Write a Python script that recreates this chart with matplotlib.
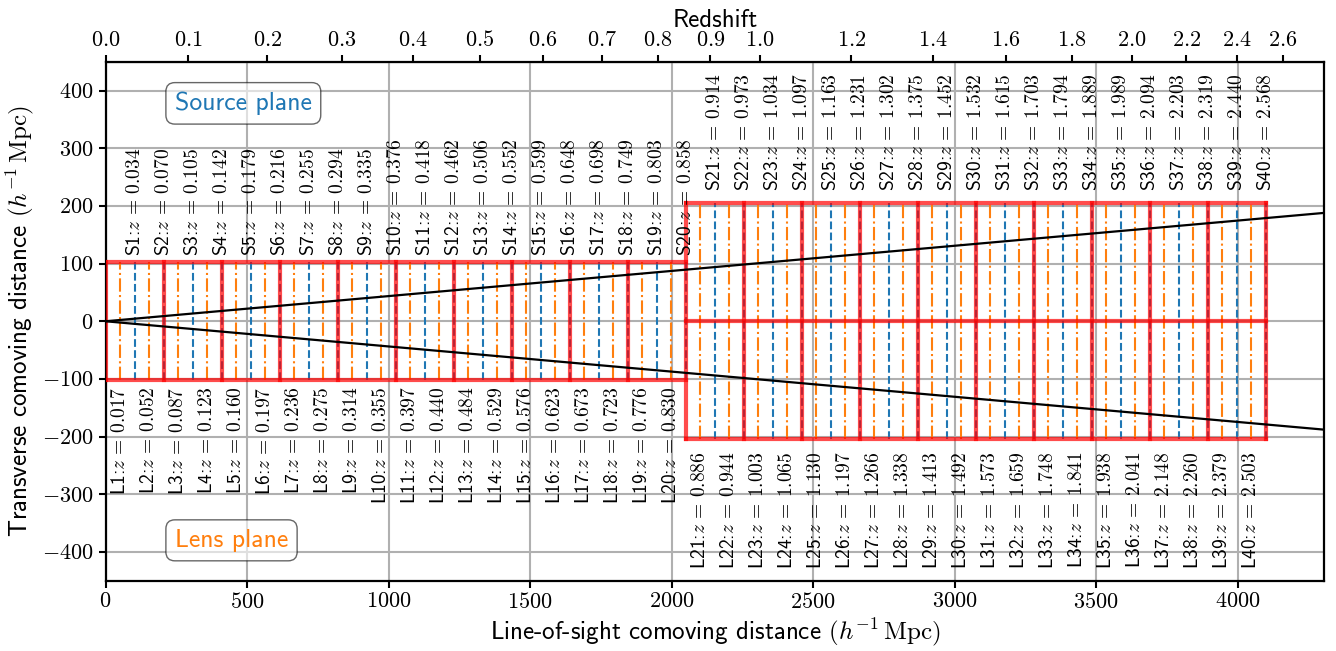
import matplotlib
matplotlib.use("Agg")
import matplotlib.pyplot as plt
import matplotlib.ticker as ticker
import numpy as np

plt.rcParams["font.family"] = "sans-serif"
plt.rcParams["font.sans-serif"] = ["cmss10"]
plt.rcParams["mathtext.fontset"] = "cm"
plt.rcParams["axes.formatter.use_mathtext"] = True

# ---------------------------------------------------------------------------
# Data: simulation slabs and planes
# ---------------------------------------------------------------------------
slab_edges = [0, 205, 410, 615, 820, 1025, 1230, 1435, 1640, 1845, 2050,
              2255, 2460, 2665, 2870, 3075, 3280, 3485, 3690, 3895, 4100]
slab_halfwidth = [102.5] * 10 + [205.0] * 10

z_lens = [0.017, 0.052, 0.087, 0.123, 0.160, 0.197, 0.236, 0.275, 0.314, 0.355,
          0.397, 0.440, 0.484, 0.529, 0.576, 0.623, 0.673, 0.723, 0.776, 0.830,
          0.886, 0.944, 1.003, 1.065, 1.130, 1.197, 1.266, 1.338, 1.413, 1.492,
          1.573, 1.659, 1.748, 1.841, 1.938, 2.041, 2.148, 2.260, 2.379, 2.503]
z_source = [0.034, 0.070, 0.105, 0.142, 0.179, 0.216, 0.255, 0.294, 0.335, 0.376,
            0.418, 0.462, 0.506, 0.552, 0.599, 0.648, 0.698, 0.749, 0.803, 0.858,
            0.914, 0.973, 1.034, 1.097, 1.163, 1.231, 1.302, 1.375, 1.452, 1.532,
            1.615, 1.703, 1.794, 1.889, 1.989, 2.094, 2.203, 2.319, 2.440, 2.568]

fov_half_deg = 2.5
omega_m = 0.3
z_ticks = [0.0, 0.1, 0.2, 0.3, 0.4, 0.5, 0.6, 0.7, 0.8, 0.9, 1.0,
           1.2, 1.4, 1.6, 1.8, 2.0, 2.2, 2.4, 2.6]

XMAX = 4305
YLIM = 450

# comoving distance <-> redshift (flat LCDM), only for the top axis
_zg = np.linspace(0, 6, 6001)
_inv_e = 1.0 / np.sqrt(omega_m * (1 + _zg) ** 3 + 1 - omega_m)
_dg = 2997.92458 * np.concatenate([[0], np.cumsum(0.5 * (_inv_e[1:] + _inv_e[:-1]) * np.diff(_zg))])


def z2d(z):
    return np.interp(z, _zg, _dg)


def d2z(d):
    return np.interp(d, _dg, _zg)


fig = plt.figure(figsize=(13.36, 6.51), dpi=100)
ax = fig.add_axes([0.079, 0.108, 0.912, 0.797])

# planes (lens at 1/4 and 3/4 of each slab, source at 1/2 and the far edge)
lens_x, source_x, halfw = [], [], []
for i in range(len(slab_edges) - 1):
    x0, x1 = slab_edges[i], slab_edges[i + 1]
    w = x1 - x0
    h = slab_halfwidth[i]
    for xl in (x0 + 0.25 * w, x0 + 0.75 * w):
        ax.plot([xl, xl], [-h, h], color="C1", ls="-.", lw=1.5, zorder=2)
        lens_x.append(xl)
    for xs in (x0 + 0.5 * w, x1):
        ax.plot([xs, xs], [-h, h], color="C0", ls="--", lw=1.5, zorder=2)
        source_x.append(xs)
    halfw += [h, h]

# box outlines, every edge drawn once
red_kw = dict(color="red", lw=3, alpha=0.7, zorder=3)
for j, xe in enumerate(slab_edges):
    left = slab_halfwidth[j - 1] if j > 0 else 0
    right = slab_halfwidth[j] if j < len(slab_halfwidth) else 0
    h = max(left, right)
    ax.plot([xe, xe], [-h, h], **red_kw)
start = 0
for j in range(1, len(slab_halfwidth) + 1):
    if j == len(slab_halfwidth) or slab_halfwidth[j] != slab_halfwidth[start]:
        h = slab_halfwidth[start]
        xa, xb = slab_edges[start], slab_edges[j]
        side = slab_edges[start + 1] - slab_edges[start]
        for yl in np.arange(-h, h + 1e-6, side):
            ax.plot([xa, xb], [yl, yl], **red_kw)
        start = j

# field of view
slope = np.tan(np.radians(fov_half_deg))
ax.plot([0, XMAX], [0, XMAX * slope], color="black", lw=1.6, zorder=4)
ax.plot([0, XMAX], [0, -XMAX * slope], color="black", lw=1.6, zorder=4)

# plane labels
for i, (xs, z) in enumerate(zip(source_x, z_source)):
    ax.text(xs, 1.1 * halfw[i], f"S{i + 1}:$z\\,=\\,{z:.3f}$", rotation=90,
            ha="center", va="bottom", fontsize=14, zorder=5)
for i, (xl, z) in enumerate(zip(lens_x, z_lens)):
    ax.text(xl, -1.1 * halfw[i], f"L{i + 1}:$z\\,=\\,{z:.3f}$", rotation=90,
            ha="center", va="top", fontsize=14, zorder=5)

box = dict(boxstyle="round,pad=0.35", facecolor="white", edgecolor="black", alpha=0.6)
ax.text(245, 378, "Source plane", color="C0", fontsize=18.5, ha="left",
        va="center", bbox=box, zorder=6)
ax.text(245, -380, "Lens plane", color="C1", fontsize=18.5, ha="left",
        va="center", bbox=box, zorder=6)

ax.set_xlim(0, XMAX)
ax.set_ylim(-YLIM, YLIM)
ax.set_yticks(np.arange(-400, 401, 100))
math_fmt = ticker.FuncFormatter(lambda v, p: f"${v:.0f}$")
ax.xaxis.set_major_formatter(math_fmt)
ax.yaxis.set_major_formatter(math_fmt)
ax.grid(True, color="#b0b0b0", lw=1.5, zorder=0)
ax.set_axisbelow(True)
ax.tick_params(labelsize=16, width=1.5, length=5)
for sp in ax.spines.values():
    sp.set_linewidth(1.6)

ax.set_xlabel(r"Line-of-sight comoving distance $(h^{-1}\,\mathrm{Mpc})$", fontsize=18, labelpad=3)
ax.set_ylabel(r"Transverse comoving distance $(h^{-1}\,\mathrm{Mpc})$", fontsize=18, labelpad=4)

top = ax.secondary_xaxis("top", functions=(d2z, z2d))
top.set_xticks(z_ticks)
top.set_xticklabels([f"${z:.1f}$" for z in z_ticks])
top.tick_params(labelsize=16, width=1.5, length=5)
top.set_xlabel("Redshift", fontsize=18, labelpad=2)

fig.savefig("out.png", dpi=100)
